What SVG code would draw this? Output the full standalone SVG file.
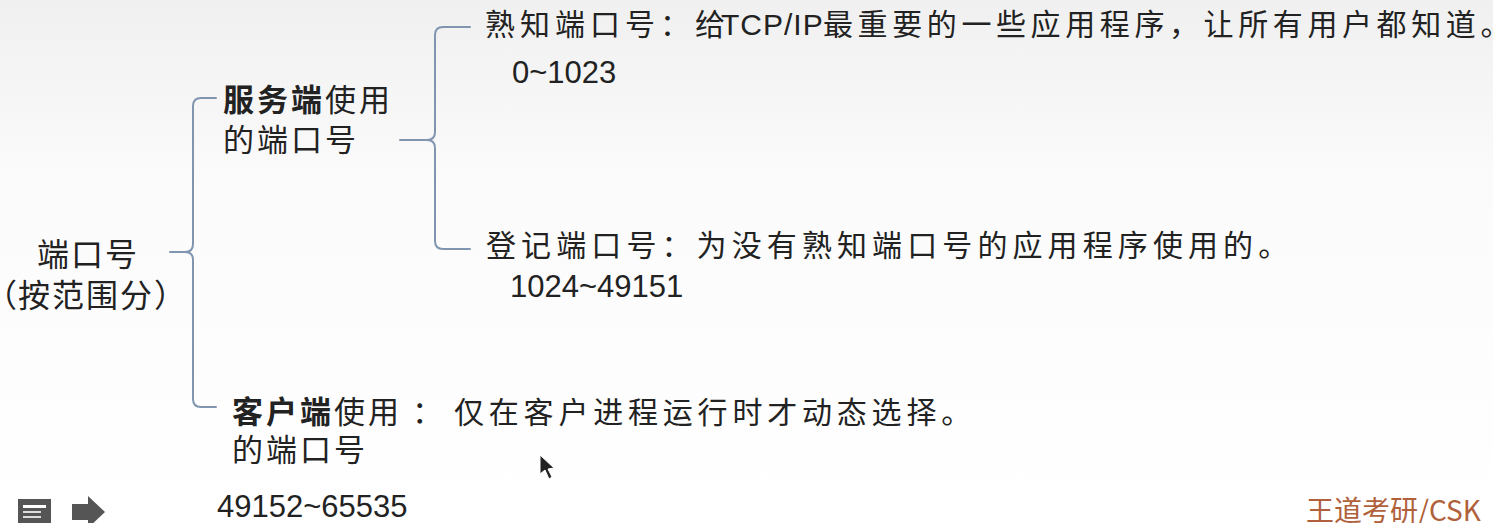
<svg xmlns="http://www.w3.org/2000/svg" width="1493" height="523" viewBox="0 0 1493 523">
  <style>
    .t { font-family: "Noto Sans CJK SC", "Noto Sans", sans-serif; fill: #222222; }
    .n { font-family: "Liberation Sans", Arial, sans-serif; fill: #222222; font-size: 31px; }
    .b { font-weight: bold; }
    .brace { fill: none; stroke: #8096b0; stroke-width: 2; stroke-linecap: round; }
  </style>
  <defs>
    <linearGradient id="bg" x1="0" y1="0" x2="0" y2="1">
      <stop offset="0" stop-color="#f0f0f0"/>
      <stop offset="0.35" stop-color="#fbfbfb"/>
      <stop offset="1" stop-color="#ffffff"/>
    </linearGradient>
  </defs>
  <rect x="0" y="0" width="1493" height="523" fill="url(#bg)"/>

  <g id="connectors">
    <path class="brace" d="M216,98 H201 Q193,98 193,106 V244 Q193,252 185,252 H170 M185,252 Q193,252 193,260 V399 Q193,407 201,407 H216"/>
    <path class="brace" d="M470,27 H443 Q435,27 435,35 V132 Q435,140 427,140 H400 M427,140 Q435,140 435,148 V241 Q435,249 443,249 H470"/>
  </g>

  <g id="root">
    <text class="t" x="37" y="266" font-size="32" letter-spacing="2">端口号</text>
    <text class="t" x="-15 18 52 86 120 154" y="307" font-size="32">（按范围分）</text>
  </g>

  <g id="server">
    <text class="t" x="223" y="111" font-size="31" letter-spacing="3"><tspan class="b">服务端</tspan>使用</text>
    <text class="t" x="223" y="151" font-size="31" letter-spacing="3">的端口号</text>
  </g>

  <g id="well-known">
    <text class="t" x="485" y="35" font-size="30" letter-spacing="5">熟知端口号：给<tspan x="721" font-family="Liberation Sans, Arial, sans-serif" letter-spacing="1">TCP/IP</tspan><tspan x="823" letter-spacing="4.6">最重要的一些应用程序，让所有用户都知道。</tspan></text>
    <text class="n" x="512" y="83">0~1023</text>
  </g>

  <g id="registered">
    <text class="t" x="486" y="256" font-size="30" letter-spacing="5.1">登记端口号：为没有熟知端口号的应用程序使用的。</text>
    <text class="n" x="510" y="297">1024~49151</text>
  </g>

  <g id="client">
    <text class="t" x="232" y="423" font-size="31" letter-spacing="3"><tspan class="b">客户端</tspan>使用</text>
    <text class="t" x="412" y="423" font-size="31">：</text>
    <text class="t" x="454" y="423" font-size="30" letter-spacing="4.8">仅在客户进程运行时才动态选择。</text>
    <text class="t" x="232" y="461" font-size="31" letter-spacing="3">的端口号</text>
    <text class="n" x="217" y="517">49152~65535</text>
  </g>

  <g id="watermark">
    <text x="1306" y="521" font-family="Noto Sans CJK SC, sans-serif" font-size="28" fill="#b0603a">王道考研/CSK</text>
  </g>

  <g id="ui">
    <rect x="18" y="499" width="33" height="24" fill="#555555"/>
    <rect x="23" y="505" width="23" height="3" fill="#ffffff"/>
    <rect x="23" y="511" width="18" height="2" fill="#dddddd"/>
    <rect x="23" y="516" width="18" height="2" fill="#dddddd"/>
    <path d="M72,504 H88 V496 L105,512 L88,528 V520 H72 Z" fill="#555555"/>
    <path d="M540,455 L540,474 L545,470 L549,479 L552,477 L548,469 L554,468 Z" fill="#222222" stroke="#ffffff" stroke-width="1"/>
  </g>
</svg>
